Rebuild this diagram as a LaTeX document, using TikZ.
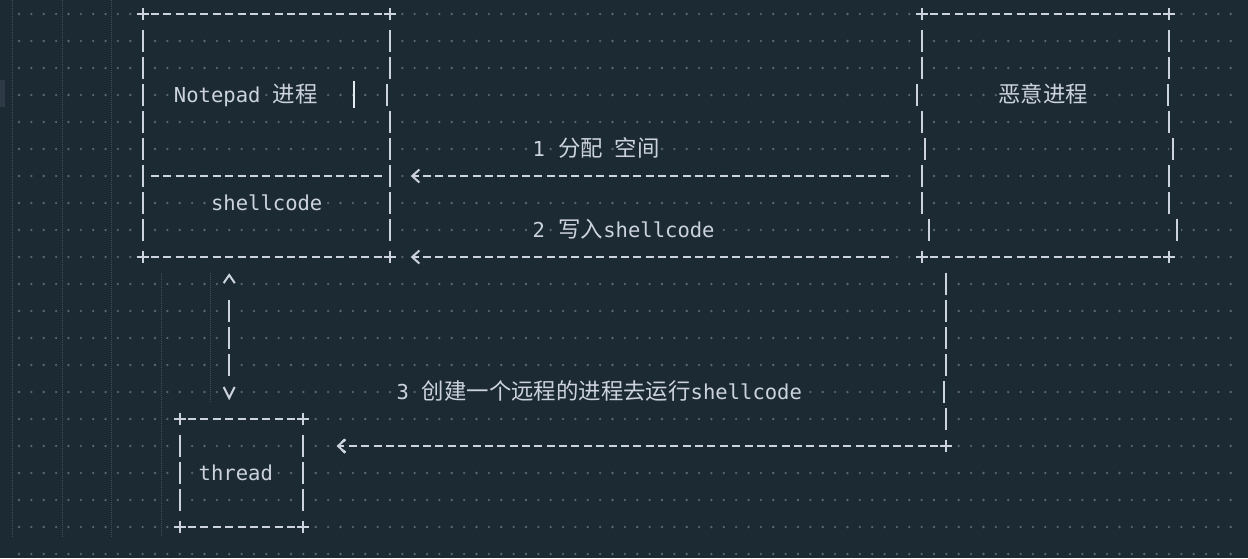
\documentclass[tikz,border=0pt]{standalone}
\usepackage{fontspec}
\setmonofont{DejaVu Sans Mono}
\newfontfamily\hanfont{Noto Sans CJK SC}
\usetikzlibrary{arrows.meta}

\definecolor{editorbg}{HTML}{1B2A33}
\definecolor{ink}{HTML}{CDD3DE}
\definecolor{wsdot}{HTML}{5B6772}
\definecolor{guide}{HTML}{414D57}
\definecolor{gutter}{HTML}{2E3B46}
\definecolor{caret}{HTML}{E4E9F0}

\newcommand\han[1]{{\fontsize{11.2pt}{13pt}\hanfont #1}}

\tikzset{
  mask/.style={preaction={draw=editorbg, solid, line width=4pt, -}},
  dashrow/.style={draw=ink, line width=1pt, dash pattern=on 4pt off 2.1825pt, mask},
  barglyph/.style={draw=ink, line width=1pt, mask},
  plusglyph/.style={draw=ink, line width=1pt, mask},
  chevron/.style={draw=ink, line width=1pt, mask},
  flow/.style={dashrow, -{Straight Barb[length=3.6pt, width=6.5pt]}},
  guideline/.style={draw=guide, line width=0.5pt, dash pattern=on 0.5pt off 0.5pt},
  label/.style={font=\fontsize{10.27pt}{13pt}\ttfamily, text=ink, fill=editorbg, inner sep=0pt, anchor=base west},
}

\newcommand\plusat[2]{\draw[plusglyph] (#1-0.485,#2) -- (#1+0.485,#2) (#1,#2-0.222) -- (#1,#2+0.222);}
\newcommand\dashrun[3]{\draw[dashrow] (#1-0.3235,#3) -- (#2+0.3235,#3);}
\newcommand\barat[2]{\draw[barglyph] (#1,#2-0.407) -- (#1,#2+0.407);}

\begin{document}
\begin{tikzpicture}[x=6.1825pt, y=-13.5pt]
  \fill[editorbg] (-1.5366,-0.5185) rectangle (99.394,20.148);
  \useasboundingbox (-1.5366,-0.5185) rectangle (99.394,20.148);
  \fill[gutter] (-1.5366,2.444) rectangle (-1.132,3.444);

  % whitespace dots and indent guides
  \foreach \r in {0,...,20}
    \foreach \c in {0,...,98}
      \fill[wsdot] (\c,\r) circle[radius=0.65pt];
  \foreach \g in {-0.5,3.5,7.5}
    \draw[guideline] (\g,-0.5185) -- (\g,19.37);
  \draw[guideline] (11.5,9.6) -- (11.5,19.37);
  \draw[guideline] (15.5,9.6) -- (15.5,14.41);

  % Notepad box
  \plusat{10}{0} \plusat{30}{0} \plusat{10}{9} \plusat{30}{9}
  \dashrun{11}{29}{0} \dashrun{11}{29}{6} \dashrun{11}{29}{9}
  \foreach \r/\xr in {1/30,2/30,3/29.73,4/30,5/30,6/30,7/30,8/30}
    {\barat{10}{\r} \barat{\xr}{\r}}
  \draw[caret, line width=1pt] (27.09,2.48) -- (27.09,3.47);

  % evil box
  \plusat{73}{0} \plusat{93}{0} \plusat{73}{9} \plusat{93}{9}
  \dashrun{74}{92}{0} \dashrun{74}{92}{9}
  \foreach \r/\xl/\xr in {1/73/93,2/73/93,3/72.6/92.92,4/73/93,5/73.28/93.33,6/73/93,7/73/93,8/73.62/93.67}
    {\barat{\xl}{\r} \barat{\xr}{\r}}

  % thread box
  \plusat{13}{15} \plusat{23}{15} \plusat{13}{19} \plusat{23}{19}
  \dashrun{14}{22}{15} \dashrun{14}{22}{19}
  \foreach \r in {16,17,18}
    {\barat{13}{\r} \barat{23}{\r}}

  % texts
  \node[label] (notepad) at (12.5,3.259) {Notepad};
  \node[label] (notepad-zh) at (20.5,3.259) {\han{进程}};
  \node[label] (shellcode) at (15.5,7.259) {shellcode};
  \node[label] (evil) at (79.17,3.259) {\han{恶意进程}};
  \node[label] (thread) at (14.5,17.259) {thread};
  \node[label] (step1) at (41.5,5.259) {1};
  \node[label] (step1-a) at (43.6,5.259) {\han{分配}};
  \node[label] (step1-b) at (48.15,5.259) {\han{空间}};
  \node[label] (step2) at (41.5,8.259) {2};
  \node[label] (step2-a) at (43.6,8.259) {\han{写入}shellcode};
  \node[label] (step3) at (30.5,14.259) {3};
  \node[label] (step3-a) at (32.55,14.259) {\han{创建一个远程的进程去运行}shellcode};

  % arrows
  \coordinate (alloc-from) at (70.3235,6);
  \coordinate (alloc-to) at (31.6765,6);
  \coordinate (write-from) at (70.3235,9);
  \coordinate (write-to) at (31.6765,9);
  \coordinate (run-from) at (74.3235,16);
  \coordinate (run-to) at (25.6765,16);
  \draw[flow] (alloc-from) -- (alloc-to);
  \draw[flow] (write-from) -- (write-to);
  \foreach \r/\c in {10/75,11/75,12/75,13/75,14/74.83,15/75}
    \barat{\c}{\r}
  \plusat{75}{16}
  \draw[flow] (run-from) -- (run-to);

  % up/down link between notepad and thread
  \coordinate (up-tip) at (17,9.667);
  \coordinate (down-tip) at (17,14.222);
  \fill[editorbg] (17,10) circle[radius=1.5pt] (17,14) circle[radius=1.5pt];
  \foreach \r in {11,12,13}
    \barat{17}{\r}
  \draw[chevron] ([xshift=-2.75pt,yshift=-4pt]up-tip) -- (up-tip) -- ([xshift=2.75pt,yshift=-4pt]up-tip);
  \draw[chevron] ([xshift=-2.75pt,yshift=5.5pt]down-tip) -- (down-tip) -- ([xshift=2.75pt,yshift=5.5pt]down-tip);
\end{tikzpicture}
\end{document}
